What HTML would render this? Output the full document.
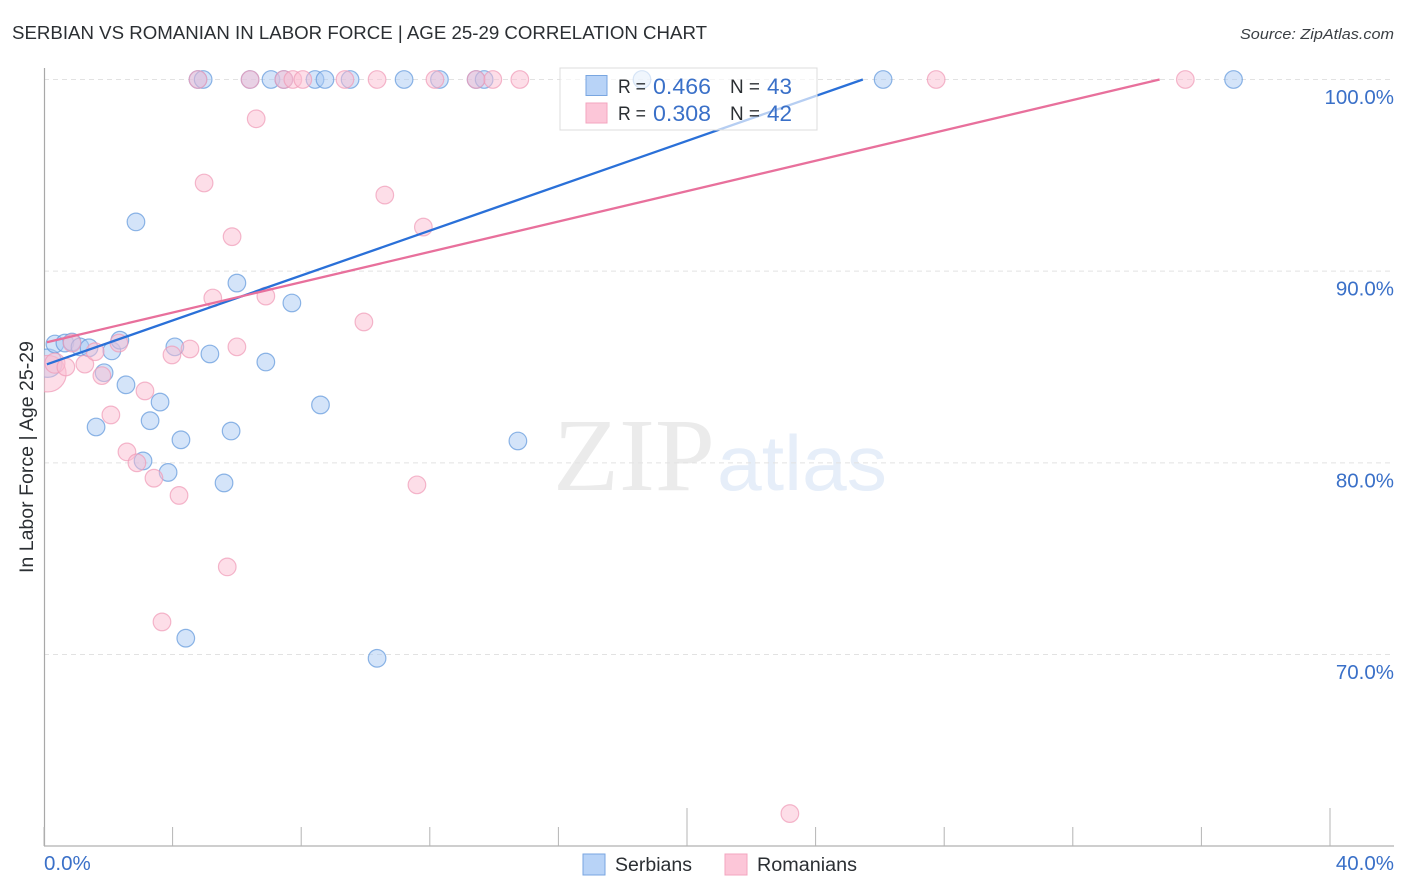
<!DOCTYPE html>
<html lang="en">
<head>
<meta charset="utf-8">
<title>Serbian vs Romanian in Labor Force | Age 25-29 Correlation Chart</title>
<style>
html,body{margin:0;padding:0;background:#fff;}
svg{display:block;font-family:"Liberation Sans",sans-serif;}
</style>
</head>
<body>
<svg id="chart" width="1406" height="892" viewBox="0 0 1406 892" xmlns="http://www.w3.org/2000/svg">
  <defs><clipPath id="plot-clip"><rect x="44" y="60" width="1350" height="786"/></clipPath></defs>
  <text x="12" y="39" font-size="18.5" fill="#2b2f33" textLength="695" lengthAdjust="spacingAndGlyphs">SERBIAN VS ROMANIAN IN LABOR FORCE | AGE 25-29 CORRELATION CHART</text>
  <text x="1394" y="39" font-size="15" font-style="italic" fill="#3a3f44" text-anchor="end" textLength="154" lengthAdjust="spacingAndGlyphs">Source: ZipAtlas.com</text>
  <g id="watermark">
    <text x="553" y="490" font-family="'Liberation Serif',serif" font-size="104" fill="#ebebeb" textLength="162" lengthAdjust="spacingAndGlyphs">ZIP</text>
    <text x="717" y="490" font-size="78" fill="#e6eef9" textLength="170" lengthAdjust="spacingAndGlyphs">atlas</text>
  </g>
  <g id="grid"></g>
  <g id="axes"></g>
  <g id="marks" clip-path="url(#plot-clip)"></g>
  <g id="trends" clip-path="url(#plot-clip)"></g>
  <g id="stats-legend">
    <rect x="560" y="68" width="257" height="62" fill="#fff" fill-opacity="0.66" stroke="#dcdcdc" stroke-width="1"/>
    <rect x="586" y="75.500" width="21" height="20" fill="#b8d3f7" stroke="#79a6e0"/>
    <rect x="586" y="103" width="21" height="20" fill="#fcc6d8" stroke="#f3a5bf"/>
    <text x="618" y="93" font-size="19" fill="#2b2f33" textLength="28" lengthAdjust="spacingAndGlyphs">R =</text>
    <text x="653" y="94" font-size="22" fill="#3a70c8" textLength="58" lengthAdjust="spacingAndGlyphs">0.466</text>
    <text x="730" y="93" font-size="19" fill="#2b2f33" textLength="30" lengthAdjust="spacingAndGlyphs">N =</text>
    <text x="767" y="94" font-size="22" fill="#3a70c8" textLength="25" lengthAdjust="spacingAndGlyphs">43</text>
    <text x="618" y="120" font-size="19" fill="#2b2f33" textLength="28" lengthAdjust="spacingAndGlyphs">R =</text>
    <text x="653" y="121" font-size="22" fill="#3a70c8" textLength="58" lengthAdjust="spacingAndGlyphs">0.308</text>
    <text x="730" y="120" font-size="19" fill="#2b2f33" textLength="30" lengthAdjust="spacingAndGlyphs">N =</text>
    <text x="767" y="121" font-size="22" fill="#3a70c8" textLength="25" lengthAdjust="spacingAndGlyphs">42</text>
  </g>
  <text transform="translate(33,457) rotate(-90)" font-size="19" fill="#2b2f33" text-anchor="middle" textLength="232" lengthAdjust="spacingAndGlyphs">In Labor Force | Age 25-29</text>
  <g id="series-legend">
    <rect x="583" y="854" width="22" height="21" fill="#b8d3f7" stroke="#79a6e0"/>
    <text x="615" y="871" font-size="19" fill="#2b2f33" textLength="77" lengthAdjust="spacingAndGlyphs">Serbians</text>
    <rect x="725" y="854" width="22" height="21" fill="#fcc6d8" stroke="#f3a5bf"/>
    <text x="757" y="871" font-size="19" fill="#2b2f33" textLength="100" lengthAdjust="spacingAndGlyphs">Romanians</text>
  </g>
</svg>
<script>
const yTickValues = [100, 90, 80, 70];
const yTickLabels = ["100.0%", "90.0%", "80.0%", "70.0%"];
const xTickValues = [0, 4, 8, 12, 16, 20, 24, 28, 32, 36, 40];
const xMajorTicks = [20, 40];
const xEndValues = [0, 40];
const xEndLabels = ["0.0%", "40.0%"];

const serbianX = [0.12, 0.34, 0.65, 0.87, 1.12, 1.4, 2.11, 2.36, 1.87, 2.55, 1.62, 3.61, 3.3, 4.26, 3.08, 3.86, 4.07, 5.16, 5.82, 5.6, 6.9, 8.6, 7.71, 6.0, 2.86, 4.41, 10.36, 14.74, 4.79, 4.95, 6.41, 7.06, 7.46, 8.43, 8.74, 9.52, 11.2, 12.3, 13.44, 13.69, 18.6, 26.1, 37.0];
const serbianY = [85.2, 86.2, 86.25, 86.3, 86.05, 86.0, 85.84, 86.4, 84.7, 84.07, 81.87, 83.17, 82.2, 81.2, 80.1, 79.5, 86.05, 85.68, 81.66, 78.95, 85.26, 83.02, 88.34, 89.38, 92.57, 70.85, 69.8, 81.14, 100, 100, 100, 100, 100, 100, 100, 100, 100, 100, 100, 100, 100, 100, 100];
const serbianWeight = [2.6, 1, 1, 1, 1, 1, 1, 1, 1, 1, 1, 1, 1, 1, 1, 1, 1, 1, 1, 1, 1, 1, 1, 1, 1, 1, 1, 1, 1, 1, 1, 1, 1, 1, 1, 1, 1, 1, 1, 1, 1, 1, 1];

const romanianX = [0.12, 0.34, 0.68, 1.27, 1.59, 1.8, 2.33, 2.08, 2.58, 2.89, 3.14, 3.42, 3.98, 4.54, 4.2, 5.25, 6.0, 6.9, 9.95, 11.6, 11.8, 10.6, 5.85, 4.98, 6.6, 5.7, 3.67, 23.2, 0.87, 4.79, 6.41, 7.46, 7.74, 8.05, 9.36, 10.36, 12.16, 13.44, 13.96, 14.8, 27.75, 35.5];
const romanianY = [84.65, 85.2, 85.0, 85.15, 85.8, 84.55, 86.25, 82.5, 80.57, 80.0, 83.75, 79.2, 85.63, 85.94, 78.3, 88.6, 86.05, 88.7, 87.35, 78.85, 92.3, 93.97, 91.8, 94.6, 97.95, 74.57, 71.7, 61.7, 86.25, 100, 100, 100, 100, 100, 100, 100, 100, 100, 100, 100, 100, 100];
const romanianWeight = [4.3, 1.3, 1, 1, 1, 1, 1, 1, 1, 1, 1, 1, 1, 1, 1, 1, 1, 1, 1, 1, 1, 1, 1, 1, 1, 1, 1, 1, 1, 1, 1, 1, 1, 1, 1, 1, 1, 1, 1, 1, 1, 1];

const serbianTrendX = [0.09, 25.47];
const serbianTrendY = [85.14, 100];
const romanianTrendX = [0.09, 34.7];
const romanianTrendY = [86.29, 100];

const NS = "http://www.w3.org/2000/svg";
function xScale(v) { return 44 + v * (1330 - 44) / 40; }
function yScale(v) { return 79.5 + (100 - v) * (654.5 - 79.5) / 30; }
function make(tag, attrs, parent) {
  const el = document.createElementNS(NS, tag);
  for (const k in attrs) el.setAttribute(k, attrs[k]);
  parent.appendChild(el);
  return el;
}
const gridG = document.getElementById("grid");
const axesG = document.getElementById("axes");
const marksG = document.getElementById("marks");
const trendsG = document.getElementById("trends");

yTickValues.forEach(function (v, i) {
  const line = make("line", {x1: 44, x2: 1394, y1: yScale(v), y2: yScale(v), stroke: "#e2e2e2", "stroke-width": 1, "stroke-dasharray": "5 4"}, gridG);
  
  
  const label = make("text", {x: 1394, y: yScale(v) + 24.5, "font-size": 20.5, fill: "#3a70c8", "text-anchor": "end"}, axesG);
  
  
  label.textContent = yTickLabels[i];
});

const yAxis = make("line", {x1: 44.5, x2: 44.5, y1: 68, y2: 846, stroke: "#a8a8a8", "stroke-width": 1.2}, axesG);


const xAxis = make("line", {x1: 44, x2: 1394, y1: 846, y2: 846, stroke: "#b0b0b0", "stroke-width": 1.2}, axesG);



xTickValues.forEach(function (v) {
  const top = xMajorTicks.indexOf(v) >= 0 ? 808 : 827;
  const tick = make("line", {x1: xScale(v), x2: xScale(v), y1: top, y2: 846, stroke: "#b4b4b4", "stroke-width": 1}, axesG);
  
  
});
xEndValues.forEach(function (v, i) {
  const anchorEnd = i === xEndValues.length - 1;
  const label = make("text", {x: anchorEnd ? 1394 : xScale(v), y: 870, "font-size": 20.5, fill: "#3a70c8", "text-anchor": anchorEnd ? "end" : "start"}, axesG);
  
  
  label.textContent = xEndLabels[i];
});

function drawPoints(xs, ys, weights, fill, stroke, name) {
  xs.forEach(function (v, i) {
    const c = make("circle", {cx: xScale(v), cy: yScale(ys[i]), r: 8.8 * Math.sqrt(weights[i]), fill: fill, "fill-opacity": 0.5, stroke: stroke, "stroke-opacity": 0.7, "stroke-width": 1.2}, marksG);
    
    
  });
}
drawPoints(serbianX, serbianY, serbianWeight, "#a9c9f3", "#5f97dc", "serbian-point");
drawPoints(romanianX, romanianY, romanianWeight, "#fbbdd1", "#ef9ab6", "romanian-point");

const serbianTrend = make("line", {x1: xScale(serbianTrendX[0]), y1: yScale(serbianTrendY[0]), x2: xScale(serbianTrendX[1]), y2: yScale(serbianTrendY[1]), stroke: "#2a70d8", "stroke-width": 2.3}, trendsG);


const romanianTrend = make("line", {x1: xScale(romanianTrendX[0]), y1: yScale(romanianTrendY[0]), x2: xScale(romanianTrendX[1]), y2: yScale(romanianTrendY[1]), stroke: "#e8709c", "stroke-width": 2.3}, trendsG);


</script>
</body>
</html>
